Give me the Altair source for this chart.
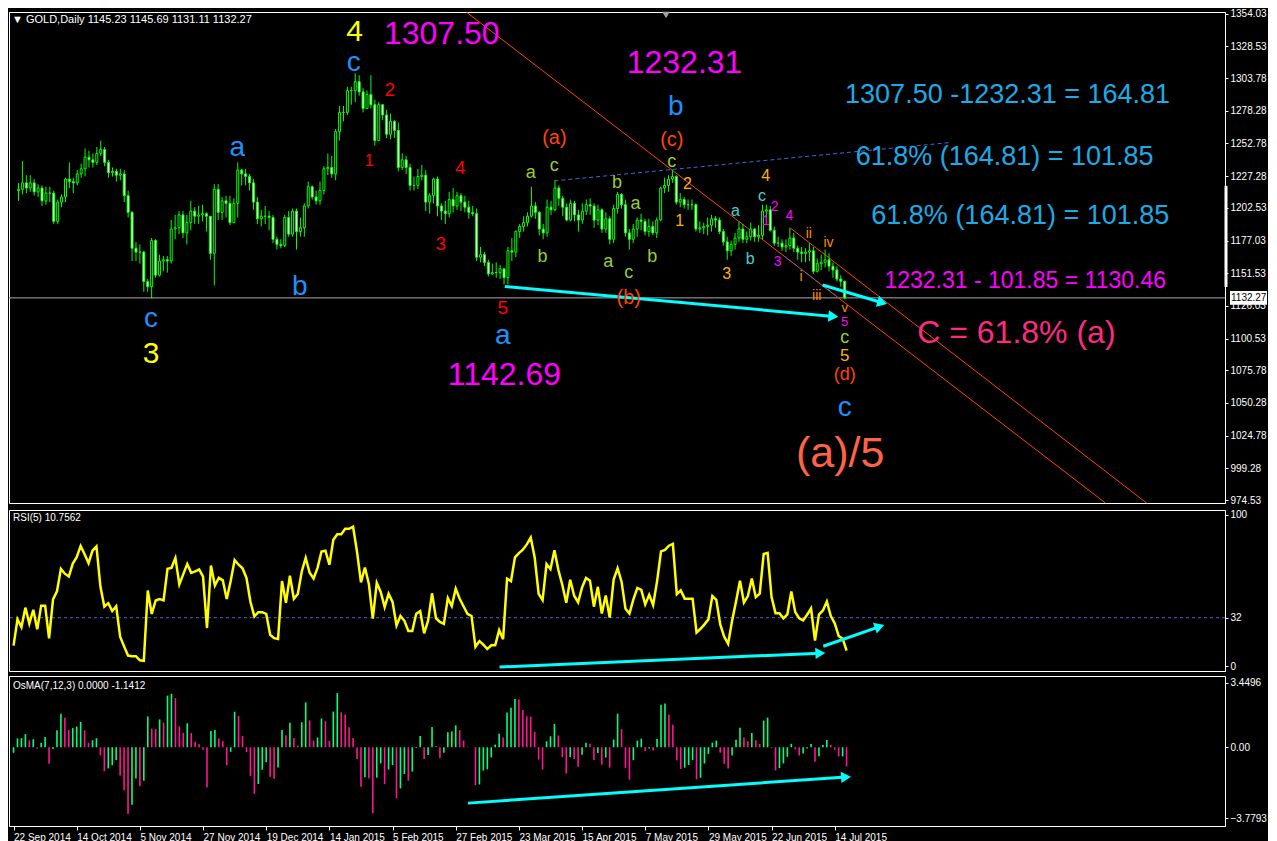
import math
import altair as alt
import pandas as pd

# ---------------- data ----------------
date_labels = ["22 Sep 2014", "14 Oct 2014", "5 Nov 2014", "27 Nov 2014", "19 Dec 2014",
               "14 Jan 2015", "5 Feb 2015", "27 Feb 2015", "23 Mar 2015", "15 Apr 2015",
               "7 May 2015", "29 May 2015", "22 Jun 2015", "14 Jul 2015"]

# closes before the first visible bar (indicator warm-up only)
history_closes = [1270, 1262, 1268, 1253, 1252, 1249, 1239, 1231, 1235, 1235, 1226, 1226, 1216]
first_open = 1216.0

closes = [1217, 1222, 1218, 1222, 1215, 1218, 1208, 1214, 1214, 1192,
          1207, 1211, 1225, 1223, 1222, 1229, 1233, 1242, 1240, 1238,
          1245, 1248, 1238, 1230, 1231, 1228, 1229, 1212, 1199, 1171,
          1168, 1168, 1145, 1141, 1177, 1150, 1161, 1162, 1161, 1186,
          1187, 1197, 1183, 1191, 1200, 1196, 1197, 1198, 1196, 1167,
          1217, 1199, 1208, 1206, 1191, 1206, 1232, 1229, 1227, 1222,
          1207, 1194, 1196, 1196, 1195, 1178, 1174, 1173, 1195, 1182,
          1200, 1184, 1187, 1204, 1219, 1211, 1208, 1216, 1233, 1234,
          1229, 1262, 1277, 1277, 1294, 1294, 1301, 1293, 1280, 1291,
          1283, 1255, 1283, 1275, 1260, 1270, 1263, 1234, 1240, 1234,
          1220, 1220, 1227, 1228, 1207, 1212, 1225, 1204, 1200, 1198,
          1209, 1204, 1212, 1207, 1203, 1199, 1198, 1164, 1166, 1160,
          1151, 1152, 1152, 1155, 1148, 1169, 1168, 1184, 1188, 1191,
          1196, 1204, 1199, 1186, 1183, 1203, 1201, 1218, 1210, 1203,
          1193, 1206, 1197, 1193, 1200, 1205, 1204, 1193, 1201, 1186,
          1194, 1178, 1202, 1213, 1205, 1183, 1178, 1186, 1193, 1192,
          1184, 1188, 1183, 1193, 1218, 1220, 1225, 1227, 1207, 1209,
          1205, 1205, 1205, 1186, 1187, 1188, 1189, 1194, 1193, 1184,
          1176, 1169, 1174, 1179, 1186, 1178, 1180, 1186, 1180, 1181,
          1200, 1201, 1185, 1175, 1175, 1172, 1173, 1179, 1171, 1168,
          1167, 1168, 1169, 1153, 1159, 1160, 1162, 1157, 1154, 1147,
          1145.23, 1132.27]

highs = [1222, 1239, 1228, 1228, 1225, 1221, 1220, 1219, 1219, 1216,
         1209, 1213, 1226, 1238, 1226, 1232, 1237, 1249, 1247, 1245,
         1250, 1255, 1250, 1240, 1234, 1233, 1233, 1232, 1216, 1200,
         1176, 1174, 1169, 1147, 1179, 1178, 1166, 1165, 1165, 1193,
         1197, 1200, 1200, 1197, 1208, 1203, 1204, 1205, 1199, 1196,
         1221, 1221, 1211, 1212, 1212, 1210, 1238, 1233, 1233, 1229,
         1225, 1211, 1201, 1204, 1200, 1197, 1180, 1178, 1197, 1200,
         1202, 1202, 1195, 1206, 1223, 1220, 1216, 1223, 1235, 1245,
         1243, 1264, 1282, 1282, 1297, 1297, 1307.5, 1306, 1296, 1294,
         1306, 1287, 1285, 1283, 1279, 1276, 1271, 1269, 1245, 1243,
         1237, 1227, 1233, 1236, 1232, 1214, 1226, 1227, 1206, 1208,
         1215, 1218, 1215, 1214, 1212, 1208, 1204, 1202, 1172, 1168,
         1162, 1159, 1160, 1158, 1155, 1172, 1179, 1185, 1190, 1196,
         1199, 1219, 1207, 1200, 1190, 1209, 1208, 1224, 1220, 1212,
         1206, 1209, 1208, 1201, 1206, 1209, 1210, 1206, 1205, 1202,
         1199, 1196, 1205, 1215, 1214, 1209, 1186, 1190, 1195, 1198,
         1194, 1194, 1192, 1195, 1219, 1226, 1228, 1232.31, 1228, 1214,
         1211, 1209, 1209, 1206, 1192, 1191, 1195, 1197, 1196, 1195,
         1186, 1180, 1177, 1183, 1192, 1190, 1184, 1191, 1187, 1189,
         1205, 1205, 1204, 1188, 1180, 1178, 1178, 1187, 1183, 1173,
         1172, 1171, 1175, 1172, 1163, 1166, 1170, 1167, 1160, 1157,
         1150, 1145.69]

lows = [1208, 1213, 1214, 1215, 1212, 1211, 1204, 1205, 1207, 1190,
        1190, 1203, 1207, 1218, 1214, 1220, 1226, 1227, 1234, 1234,
        1236, 1243, 1235, 1226, 1227, 1223, 1224, 1207, 1195, 1161,
        1161, 1159, 1137, 1137, 1131.85, 1148, 1149, 1153, 1152, 1159,
        1178, 1182, 1179, 1174, 1185, 1190, 1190, 1192, 1184, 1162,
        1142, 1193, 1193, 1195, 1189, 1191, 1195, 1220, 1220, 1216,
        1201, 1190, 1188, 1190, 1185, 1175, 1170, 1171, 1172, 1180,
        1180, 1170, 1180, 1180, 1202, 1209, 1205, 1205, 1213, 1228,
        1226, 1224, 1255, 1270, 1275, 1283, 1285, 1290, 1277, 1280,
        1280, 1251, 1255, 1271, 1257, 1256, 1257, 1231, 1232, 1229,
        1216, 1216, 1217, 1224, 1200, 1198, 1206, 1196, 1193, 1190,
        1195, 1199, 1201, 1200, 1199, 1194, 1196, 1161, 1160, 1157,
        1149, 1150, 1148, 1147, 1142.69, 1143, 1161, 1164, 1179, 1184,
        1188, 1195, 1194, 1181, 1178, 1180, 1197, 1200, 1204, 1196,
        1192, 1192, 1192, 1184, 1190, 1197, 1197, 1187, 1189, 1183,
        1183, 1174, 1175, 1198, 1202, 1180, 1170, 1175, 1180, 1185,
        1181, 1180, 1181, 1179, 1192, 1214, 1215, 1222, 1205, 1203,
        1202, 1201, 1201, 1184, 1183, 1182, 1181, 1184, 1187, 1182,
        1173, 1162, 1165, 1170, 1176, 1175, 1175, 1177, 1176, 1176,
        1178, 1195, 1184, 1173, 1172, 1169, 1168, 1170, 1168, 1162,
        1160, 1160, 1161, 1151, 1152, 1154, 1156, 1153, 1148, 1145,
        1141, 1131.11]

price_ticks = [974.53, 999.28, 1024.78, 1050.28, 1075.78, 1100.53, 1126.03, 1151.53,
               1177.03, 1202.53, 1227.28, 1252.78, 1278.28, 1303.78, 1328.53, 1354.03]
rsi_ticks = [0, 32, 100]
osma_ticks = [-3.7793, 0.0, 3.4496]
last_price = 1132.27

# wave labels: (text, bar index, price, colour, font size)
labels = [
    ("4", 85.85, 1340.0, "#FFFF00", 30), ("c", 85.6, 1315.5, "#1E90FF", 28),
    ("1307.50", 108.1, 1338.5, "#FF00FF", 32), ("2", 94.85, 1294.8, "#FF0000", 19),
    ("1", 89.6, 1238.9, "#FF0000", 17), ("a", 55.85, 1249.6, "#1E90FF", 28),
    ("b", 71.85, 1140.8, "#1E90FF", 28), ("c", 33.85, 1115.5, "#1E90FF", 28),
    ("3", 33.85, 1088.7, "#FFFF00", 30), ("4", 112.85, 1233.5, "#FF0000", 19),
    ("3", 107.85, 1174.5, "#FF0000", 19), ("5", 123.65, 1124.7, "#FF0000", 19),
    ("a", 123.65, 1102.8, "#1E90FF", 28), ("1142.69", 124.1, 1071.8, "#FF00FF", 32),
    ("1232.31", 170.1, 1315.5, "#FF00FF", 32), ("b", 167.85, 1281.0, "#1E90FF", 28),
    ("(a)", 136.85, 1257.3, "#FF4500", 20), ("(c)", 166.85, 1255.7, "#FF4500", 20),
    ("c", 166.85, 1238.1, "#9ACD32", 18), ("a", 130.85, 1229.7, "#9ACD32", 18),
    ("c", 136.85, 1235.0, "#9ACD32", 18), ("b", 152.85, 1222.0, "#9ACD32", 18),
    ("a", 157.6, 1205.9, "#9ACD32", 18), ("b", 133.85, 1163.8, "#9ACD32", 18),
    ("a", 150.6, 1160.0, "#9ACD32", 18), ("c", 155.85, 1151.5, "#9ACD32", 18),
    ("b", 161.85, 1163.8, "#9ACD32", 18), ("(b)", 155.85, 1132.4, "#FF4500", 20),
    ("2", 170.85, 1221.2, "#FFB300", 16), ("1", 168.85, 1192.1, "#FFB300", 16),
    ("4", 190.85, 1227.4, "#FFB300", 16), ("3", 180.85, 1150.8, "#FFB300", 16),
    ("a", 183.1, 1199.8, "#48D1CC", 16), ("c", 189.85, 1212.0, "#48D1CC", 16),
    ("b", 186.85, 1162.3, "#48D1CC", 16), ("2", 193.1, 1202.9, "#FF00FF", 14),
    ("1", 190.85, 1192.1, "#FF00FF", 14), ("4", 196.85, 1196.0, "#FF00FF", 14),
    ("3", 193.85, 1160.0, "#FF00FF", 14), ("ii", 201.85, 1182.2, "#FF8C00", 14),
    ("iv", 206.85, 1175.3, "#FF8C00", 14), ("i", 199.85, 1148.5, "#FF8C00", 14),
    ("iii", 203.85, 1133.9, "#FF8C00", 14), ("v", 211.0, 1124.7, "#FF8C00", 13),
    ("5", 211.0, 1113.2, "#FF00FF", 13), ("c", 211.0, 1101.0, "#9ACD32", 18),
    ("5", 211.0, 1087.2, "#FFB300", 17), ("(d)", 211.0, 1071.8, "#FF4500", 18),
    ("c", 211.0, 1046.5, "#1E90FF", 28), ("(a)/5", 209.85, 1010.5, "#FF6347", 43),
    ("1307.50 -1232.31 = 164.81", 252.6, 1290.2, "#1CABE6", 27),
    ("61.8% (164.81) = 101.85", 251.85, 1241.9, "#1CABE6", 27),
    ("61.8% (164.81) = 101.85", 255.85, 1196.0, "#1CABE6", 27),
    ("1232.31 - 101.85 = 1130.46", 257.1, 1145.4, "#FF00FF", 23),
    ("C = 61.8% (a)", 254.85, 1104.8, "#FF2A80", 32),
]

# drawn lines: (bar index 1, value 1, bar index 2, value 2)
trend_lines = [(114.35, 1355.35, 277.6, 972.2), (197.1, 1186.8, 288.1, 972.2)]
bc_line = [(136.85, 1223.55, 237.6, 1253.4), (195.35, 1165.3, 208.85, 1133.9)]
price_arrows = [(124.2, 1141.1, 208.1, 1117.8), (205.35, 1142.3, 220.6, 1128.5)]
rsi_arrows = [(123.1, -0.65, 204.35, 8.5), (205.1, 13.1, 219.35, 26.1)]
osma_arrows = [(115.1, -2.98, 210.85, -1.59)]

# ---------------- layout ----------------
W = 1216
H_MAIN, H_RSI, H_OSMA = 491, 161, 150
X_DOM = [-1.15, 306.85]
P_DOM = [972.2, 1355.35]
R_DOM = [-3.3, 103.3]
O_DOM = [-4.2, 3.8]
FONT = "Liberation Sans"

XS = alt.Scale(domain=X_DOM, nice=False, zero=False)
PS = alt.Scale(domain=P_DOM, nice=False, zero=False)
RS = alt.Scale(domain=R_DOM, nice=False, zero=False)
OS = alt.Scale(domain=O_DOM, nice=False, zero=False)

P_AXIS = alt.Axis(orient="right", values=price_ticks, format=".2f", title=None, labelFlush=True)
R_AXIS = alt.Axis(orient="right", values=rsi_ticks, format="d", title=None)
O_AXIS = alt.Axis(orient="right", values=osma_ticks, title=None,
                  labelExpr="datum.value == 0 ? '0.00' : format(datum.value, '.4f')")
label_js = "[" + ",".join("'%s'" % d for d in date_labels) + "]"
D_AXIS = alt.Axis(values=[16 * k for k in range(len(date_labels))], title=None,
                  labelExpr=label_js + "[round(datum.value / 16)]",
                  labelAlign="left", labelOverlap=False, labelFlush=False, tickSize=4,
                  labelPadding=2)

# ---------------- derived tables ----------------
n = len(closes)
opens = [first_open] + closes[:-1]
df = pd.DataFrame({"i": list(range(n)), "open": opens, "high": highs, "low": lows, "close": closes})
df["high"] = df[["high", "open", "close"]].max(axis=1)
df["low"] = df[["low", "open", "close"]].min(axis=1)
df["body"] = ["#000000" if c >= o else "#FFFFFF" for o, c in zip(df["open"], df["close"])]

allc = [float(v) for v in history_closes + closes]
period = 5
rsi_all = [None] * len(allc)
pos = neg = 0.0
for k in range(1, len(allc)):
    d = allc[k] - allc[k - 1]
    g, l = max(d, 0.0), max(-d, 0.0)
    if k <= period:
        pos += g
        neg += l
        if k == period:
            pos /= period
            neg /= period
            rsi_all[k] = 100.0 if neg == 0 else 100 - 100 / (1 + pos / neg)
    else:
        pos = (pos * (period - 1) + g) / period
        neg = (neg * (period - 1) + l) / period
        rsi_all[k] = 100.0 if neg == 0 else 100 - 100 / (1 + pos / neg)
s = pd.Series(allc)
macd = s.ewm(span=7, adjust=False).mean() - s.ewm(span=12, adjust=False).mean()
osma_all = (macd - macd.rolling(3).mean()).tolist()
h = len(history_closes)
ind = pd.DataFrame({"i": list(range(n)), "rsi": rsi_all[h:], "osma": osma_all[h:],
                    "prev": osma_all[h - 1:-1], "zero": 0.0})
ind["col"] = ["#00FF7F" if a > b else "#FF1493" for a, b in zip(ind["osma"], ind["prev"])]


def arrow_table(arrows, ydom, hpx):
    xp = W / (X_DOM[1] - X_DOM[0])
    yp = hpx / (ydom[1] - ydom[0])
    seg = pd.DataFrame(arrows, columns=["x", "y", "x2", "y2"])
    seg["ang"] = [(math.degrees(math.atan2(-(b2 - b1) * yp, (a2 - a1) * xp)) + 360) % 360
                  for a1, b1, a2, b2 in arrows]
    return seg


def px(field):
    return alt.X(field, scale=XS, axis=None)


# ---------------- main panel ----------------
def py(field):
    return alt.Y(field, scale=PS, axis=P_AXIS)

hline = alt.Chart(pd.DataFrame({"p": [last_price]})).mark_rule(color="#A8A8B0", strokeWidth=1).encode(
    y=py("p:Q"))
tl = pd.DataFrame(trend_lines, columns=["x", "y", "x2", "y2"])
trend = alt.Chart(tl).mark_rule(color="#FF4500", strokeWidth=1).encode(
    x=px("x:Q"), x2="x2:Q", y=py("y:Q"), y2="y2:Q")
bl = pd.DataFrame(bc_line, columns=["x", "y", "x2", "y2"])
bcl = alt.Chart(bl).mark_rule(color="#4169E1", strokeWidth=1, strokeDash=[4, 3]).encode(
    x=px("x:Q"), x2="x2:Q", y=py("y:Q"), y2="y2:Q")
wick = alt.Chart(df).mark_rule(color="#00FF00", strokeWidth=1).encode(
    x=px("i:Q"), y=py("low:Q"), y2="high:Q")
body = alt.Chart(df).mark_bar(size=2, stroke="#00FF00", strokeWidth=1, orient="vertical").encode(
    x=px("i:Q"), y=py("open:Q"), y2="close:Q", fill=alt.Fill("body:N", scale=None))
pa = arrow_table(price_arrows, P_DOM, H_MAIN)
p_line = alt.Chart(pa).mark_rule(color="#00FFFF", strokeWidth=3).encode(
    x=px("x:Q"), x2="x2:Q", y=py("y:Q"), y2="y2:Q")
p_head = alt.Chart(pa).mark_point(shape="triangle-right", filled=True, color="#00FFFF",
                                  size=130, opacity=1).encode(
    x=px("x2:Q"), y=py("y2:Q"), angle=alt.Angle("ang:Q", scale=None))
lab = pd.DataFrame(labels, columns=["t", "x", "y", "c", "s"])
texts = alt.Chart(lab).mark_text(font=FONT, align="center", baseline="middle").encode(
    x=px("x:Q"), y=py("y:Q"), text="t:N", color=alt.Color("c:N", scale=None),
    size=alt.Size("s:Q", scale=None))
title_main = alt.Chart(pd.DataFrame({"t": ["\u25bc GOLD,Daily  1145.23 1145.69 1131.11 1132.27"]})).mark_text(
    font=FONT, fontSize=11, color="white", align="left", baseline="middle").encode(
    text="t:N", x=alt.value(3), y=alt.value(8))
shift_mark = alt.Chart(pd.DataFrame({"k": [0]})).mark_point(
    shape="triangle-down", filled=True, color="#A0A0A0", size=60, opacity=1).encode(
    x=alt.value(657), y=alt.value(3))
scale_bar = alt.Chart(pd.DataFrame({"a": [1219.7], "b": [1140.8]})).mark_rule(
    color="white", strokeWidth=3).encode(x=alt.value(W + 1), y=py("a:Q"), y2="b:Q")
box = alt.Chart(pd.DataFrame({"a": [1137.6], "b": [1126.9]})).mark_rect(color="white").encode(
    x=alt.value(W + 5), x2=alt.value(W + 42), y=py("a:Q"), y2="b:Q")
box_t = alt.Chart(pd.DataFrame({"p": [last_price], "t": ["1132.27"]})).mark_text(
    font=FONT, fontSize=10, color="black", align="left", baseline="middle").encode(
    x=alt.value(W + 6), y=py("p:Q"), text="t:N")

main = alt.layer(hline, trend, bcl, wick, body, p_line, p_head, texts, title_main,
                 shift_mark, scale_bar, box, box_t).properties(width=W, height=H_MAIN)

# ---------------- RSI panel ----------------
def ry(field):
    return alt.Y(field, scale=RS, axis=R_AXIS)

lvl = alt.Chart(pd.DataFrame({"v": [32]})).mark_rule(
    color="#4169E1", strokeWidth=1, strokeDash=[3, 3]).encode(y=ry("v:Q"))
rsi_line = alt.Chart(ind).mark_line(color="#FFFF00", strokeWidth=2.5).encode(
    x=px("i:Q"), y=ry("rsi:Q"))
ra = arrow_table(rsi_arrows, R_DOM, H_RSI)
r_line = alt.Chart(ra).mark_rule(color="#00FFFF", strokeWidth=3).encode(
    x=px("x:Q"), x2="x2:Q", y=ry("y:Q"), y2="y2:Q")
r_head = alt.Chart(ra).mark_point(shape="triangle-right", filled=True, color="#00FFFF",
                                  size=130, opacity=1).encode(
    x=px("x2:Q"), y=ry("y2:Q"), angle=alt.Angle("ang:Q", scale=None))
rsi_title = alt.Chart(pd.DataFrame({"t": ["RSI(5) 10.7562"]})).mark_text(
    font=FONT, fontSize=10, color="white", align="left", baseline="middle").encode(
    text="t:N", x=alt.value(4), y=alt.value(8))
rsi_chart = alt.layer(lvl, rsi_line, r_line, r_head, rsi_title).properties(width=W, height=H_RSI)

# ---------------- OsMA panel ----------------
def ox(field):
    return alt.X(field, scale=XS, axis=D_AXIS)

def oy(field):
    return alt.Y(field, scale=OS, axis=O_AXIS)

hist = alt.Chart(ind).mark_rule(strokeWidth=1.6).encode(
    x=ox("i:Q"), y=oy("zero:Q"), y2="osma:Q", color=alt.Color("col:N", scale=None))
oa = arrow_table(osma_arrows, O_DOM, H_OSMA)
o_line = alt.Chart(oa).mark_rule(color="#00FFFF", strokeWidth=3).encode(
    x=ox("x:Q"), x2="x2:Q", y=oy("y:Q"), y2="y2:Q")
o_head = alt.Chart(oa).mark_point(shape="triangle-right", filled=True, color="#00FFFF",
                                  size=130, opacity=1).encode(
    x=ox("x2:Q"), y=oy("y2:Q"), angle=alt.Angle("ang:Q", scale=None))
osma_title = alt.Chart(pd.DataFrame({"t": ["OsMA(7,12,3) 0.0000 -1.1412"]})).mark_text(
    font=FONT, fontSize=10, color="white", align="left", baseline="middle").encode(
    text="t:N", x=alt.value(4), y=alt.value(10))
osma_chart = alt.layer(hist, o_line, o_head, osma_title).properties(width=W, height=H_OSMA)

chart = alt.vconcat(main, rsi_chart, osma_chart, spacing=3).resolve_scale(
    x="independent", y="independent").properties(
    background="black", padding=0).configure_view(
    stroke="white", strokeWidth=1, fill="black").configure_axis(
    labelColor="white", tickColor="white", domainColor="white", labelFont=FONT,
    labelFontSize=10, grid=False, tickSize=3, labelPadding=2)

chart.save("out.html", embed_options={"renderer": "svg", "actions": False})
